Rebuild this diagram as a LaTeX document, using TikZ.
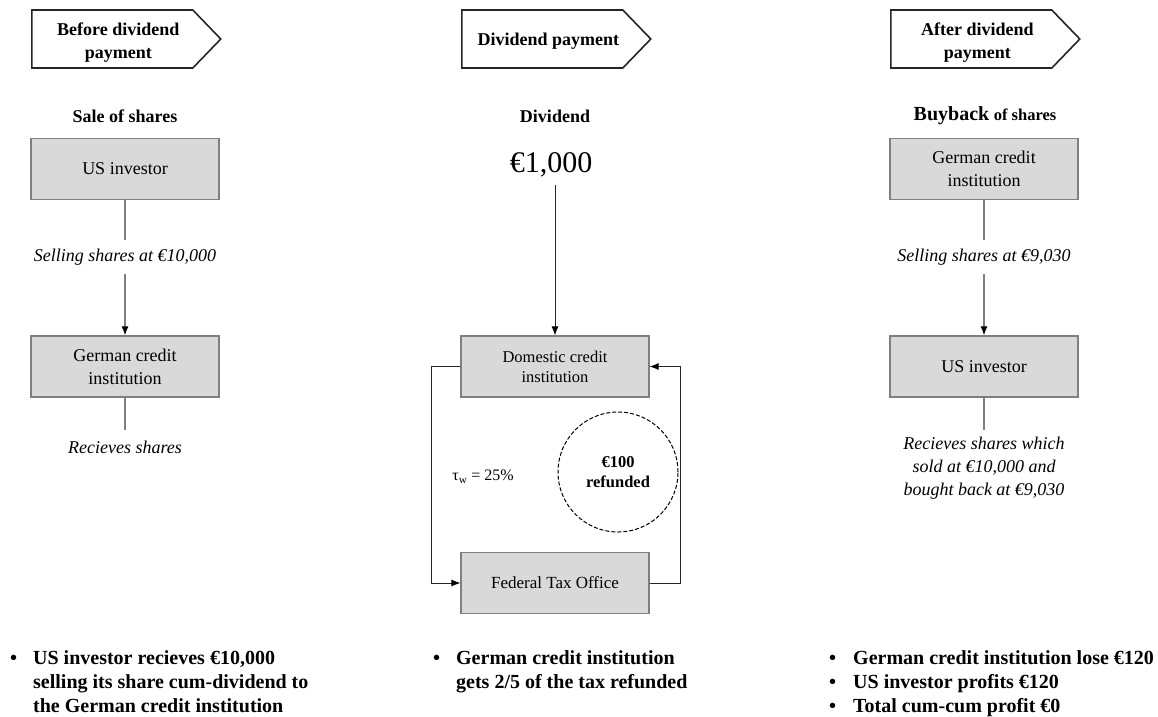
\documentclass[tikz,border=0pt]{standalone}
\usepackage{fontspec}
\setmainfont{Liberation Serif}
\usepackage{tikz}
\usetikzlibrary{arrows.meta,shapes.symbols}

\definecolor{boxfill}{HTML}{D9D9D9}
\definecolor{boxline}{HTML}{7F7F7F}

\begin{document}
\begin{tikzpicture}[x=1pt,y=-1pt,
    tagbox/.style={shape=signal, signal to=east, signal pointer angle=92,
      draw=black!85, line width=1.6pt, fill=white, minimum width=189,
      minimum height=58, inner sep=0pt, align=center, anchor=west,
      font=\fontsize{18}{23}\selectfont\bfseries},
    box/.style={draw=boxline, fill=boxfill, line width=1.2pt,
      minimum width=188, minimum height=61, align=center,
      font=\fontsize{18}{23}\selectfont},
    lbl/.style={font=\fontsize{18}{23}\selectfont\itshape, minimum height=33,
      inner sep=0pt, align=center},
    head/.style={font=\fontsize{18}{22}\selectfont\bfseries},
    link/.style={draw=boxline, line width=1.2pt},
    flow/.style={-{Latex[length=9pt,width=7pt,black]}},
    loop/.style={draw=black!85, line width=0.9pt},
    note/.style={font=\fontsize{20}{24}\selectfont\bfseries, anchor=base west,
      inner sep=0pt}]
  \useasboundingbox (0,0) rectangle (1158,716);

  % before dividend payment
  \node[tagbox] (tagA) at (31,39) {\hspace*{12pt}\rule{0pt}{20pt}Before dividend\\\hspace*{12pt}payment};
  \node[head] (saleA) at (125,116) {Sale of shares};
  \node[box] (usA) at (125,169) {US investor};
  \node[lbl] (sellA) at (125,257) {Selling shares at €10,000};
  \node[box] (gciA) at (125,366.5) {German credit\\institution};
  \node[lbl] (recvA) at (125,447) {Recieves shares};
  \draw[link] (usA) -- (sellA);
  \draw[link, flow] (sellA) -- (gciA);
  \draw[link] (gciA) -- (recvA);

  % dividend payment
  \node[tagbox] (tagB) at (461,39) {\hspace*{12pt}\rule{0pt}{17pt}Dividend payment};
  \node[head] (divB) at (555,116) {Dividend};
  \node[font=\fontsize{30}{36}\selectfont, minimum height=40, inner sep=0pt] (amtB) at (551,165) {€1,000};
  \node[box, font=\fontsize{16.5}{20}\selectfont] (dciB) at (555,366.5) {Domestic credit\\institution};
  \node[box, font=\fontsize{17}{20}\selectfont] (ftoB) at (555,583) {Federal Tax Office};
  \node[font=\fontsize{16}{20}\selectfont] (tauB) at (483,477) {τ\textsubscript{w} = 25\%};
  \node[circle, draw, dash pattern=on 4pt off 2pt, line width=1pt, minimum size=120,
    align=center, font=\fontsize{16.5}{20}\selectfont\bfseries] (refB) at (618,472) {€100\\refunded};
  \draw[loop, flow] (dciB.north |- amtB.south) -- (dciB);
  \draw[loop, flow] (dciB.west) -- ++(-29,0) |- (ftoB.west);
  \draw[loop, flow] (ftoB.east) -- ++(31,0) |- (dciB.east);

  % after dividend payment
  \node[tagbox] (tagC) at (890,39) {\hspace*{12pt}\rule{0pt}{20pt}After dividend\\\hspace*{12pt}payment};
  \node[head] (buyC) at (985,116) {{\fontsize{20}{22}\selectfont Buyback} {\fontsize{16.5}{22}\selectfont of shares}};
  \node[box] (gciC) at (984,169) {German credit\\institution};
  \node[lbl] (sellC) at (984,257) {Selling shares at €9,030};
  \node[box] (usC) at (984,366.5) {US investor};
  \node[lbl, inner ysep=7pt] (recvC) at (984,468) {Recieves shares which\\sold at €10,000 and\\bought back at €9,030};
  \draw[link] (gciC) -- (sellC);
  \draw[link, flow] (sellC) -- (usC);
  \draw[link] (usC) -- (recvC);

  % summary points
  \node[note] (noteA) at (10,664) {\begin{tabular}[t]{@{}l@{}l@{}}\makebox[23pt][l]{•}&US investor recieves €10,000\\&selling its share cum-dividend to\\&the German credit institution\end{tabular}};
  \node[note] (noteB) at (433,664) {\begin{tabular}[t]{@{}l@{}l@{}}\makebox[23pt][l]{•}&German credit institution\\&gets 2/5 of the tax refunded\end{tabular}};
  \node[note] (noteC) at (829,664) {\begin{tabular}[t]{@{}l@{}l@{}}\makebox[24pt][l]{•}&German credit institution lose €120\\\makebox[24pt][l]{•}&US investor profits €120\\\makebox[24pt][l]{•}&Total cum-cum profit €0\end{tabular}};
\end{tikzpicture}
\end{document}
